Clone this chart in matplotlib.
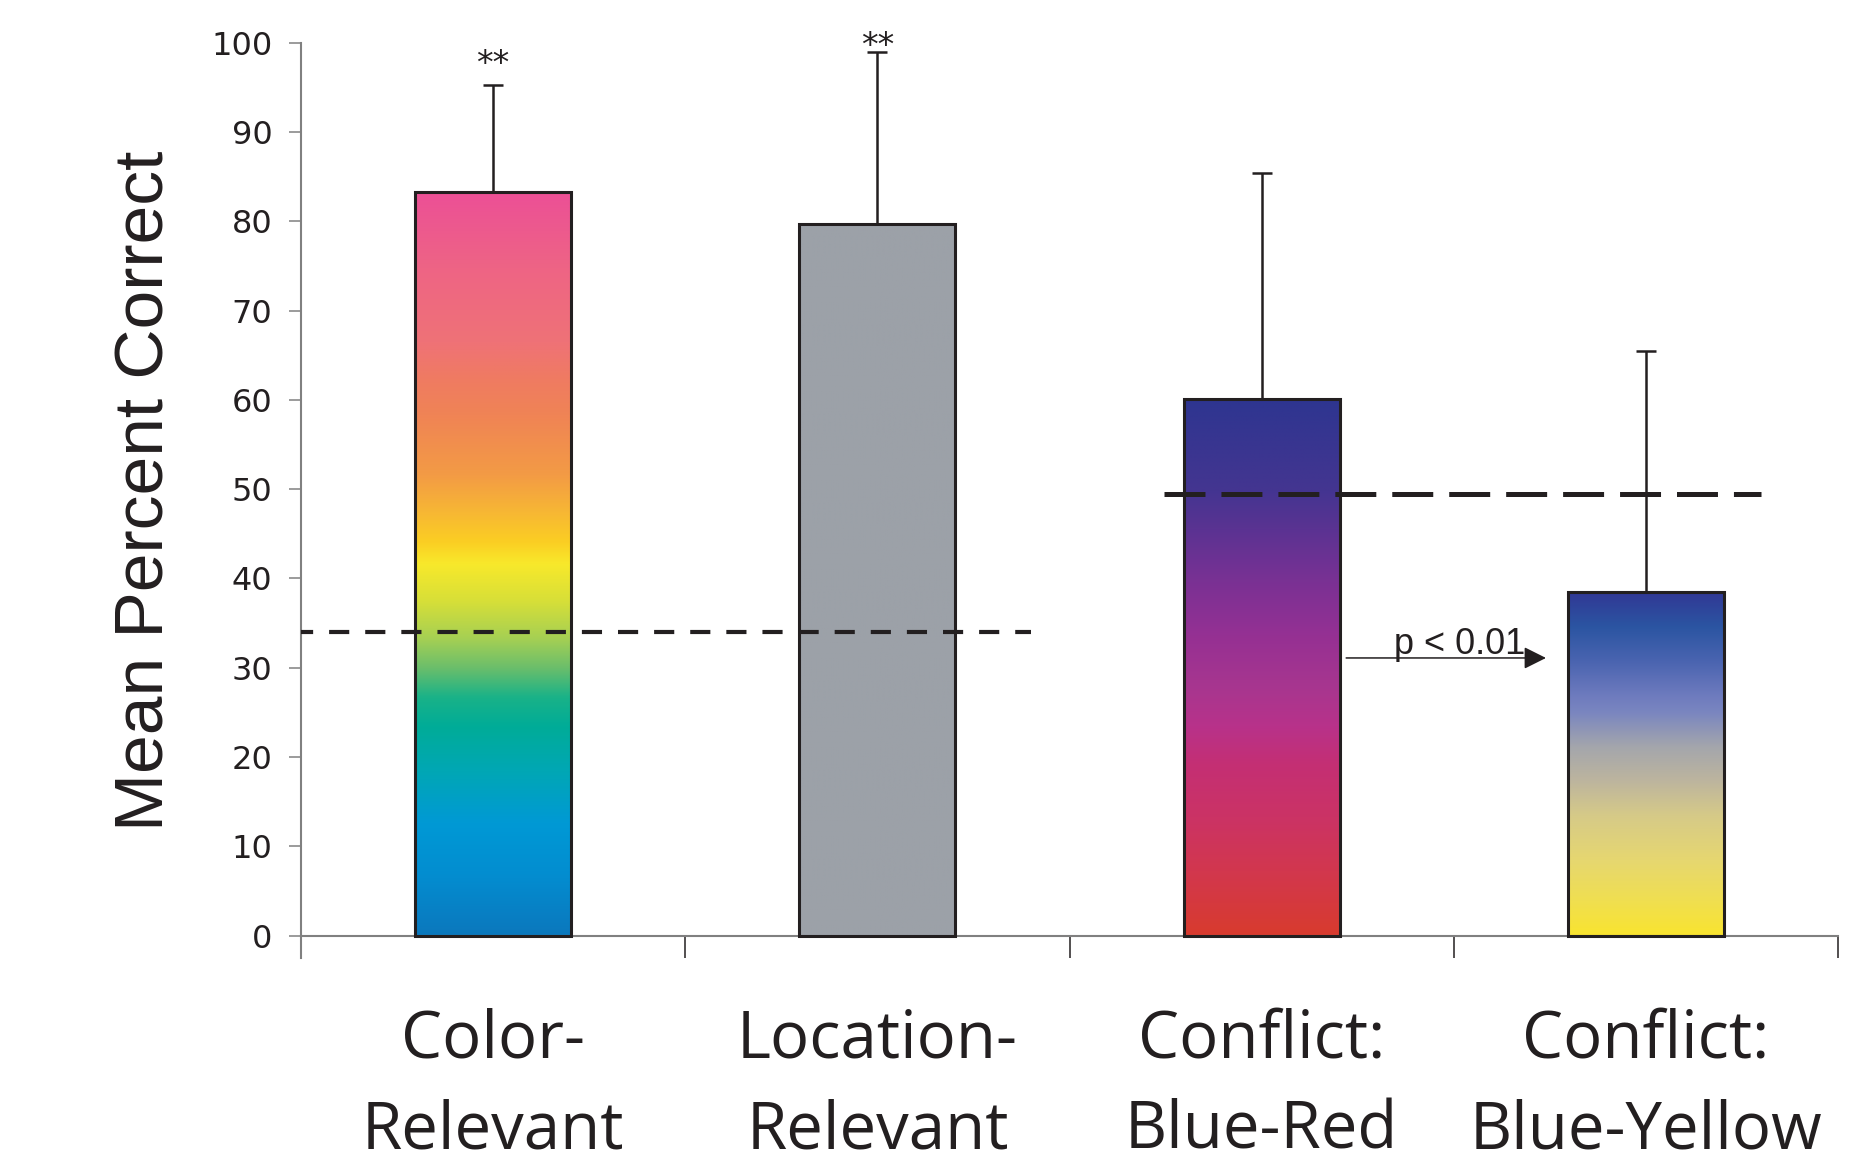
import numpy as np
import matplotlib
matplotlib.use('Agg')
import matplotlib.pyplot as plt
from matplotlib.colors import LinearSegmentedColormap

# values
categories = ['Color-\nRelevant', 'Location-\nRelevant', 'Conflict:\nBlue-Red', 'Conflict:\nBlue-Yellow']
means = [83.3, 79.7, 60.1, 38.5]
err_upper = [12.0, 19.3, 25.3, 27.0]
stars = ['**', '**', '', '']
star_y = [97.6, 99.6, 0, 0]

# chance levels (dashed lines)
chance_y = [34.0, 49.5]
chance_x = [(-0.52, 1.40), (1.745, 3.30)]

# p-value arrow
arrow_x = (2.22, 2.74)
arrow_y = 31.1
p_text = 'p < 0.01'

DARK = '#231F20'
GRAY = '#808080'

# gradients, stops from bottom (0) to top (1) of each bar
gradients = [
    ([0.0, 0.08, 0.15, 0.22, 0.28, 0.32, 0.36, 0.40, 0.45, 0.50, 0.53, 0.57, 0.62, 0.70, 0.75, 0.80, 0.90, 1.0],
     ['#0B78BD', '#038DD0', '#0099D5', '#00A7B5', '#00AC98', '#19B288', '#6BBE6B', '#A6D053',
      '#D7DF38', '#F8E92B', '#FBCE23', '#F7B734', '#F39B45', '#F08455', '#EF7B62', '#EF7277',
      '#EE6485', '#EC5096']),
    ([0.0, 1.0], ['#9CA1A8', '#9CA1A8']),
    ([0.0, 0.12, 0.22, 0.32, 0.39, 0.46, 0.56, 0.66, 0.76, 0.83, 1.0],
     ['#D83B2E', '#D2374E', '#CB3365', '#C42F74', '#B8328A', '#A8368F', '#953093', '#7A3194',
      '#5A3392', '#443591', '#2E3590']),
    ([0.0, 0.10, 0.22, 0.35, 0.45, 0.55, 0.65, 0.70, 0.80, 0.90, 1.0],
     ['#F9E42F', '#F0DF50', '#E6D770', '#D6CA88', '#BDB59E', '#A4A6AC', '#7A86C0', '#6E7BBE',
      '#4A64B0', '#2B55A2', '#313895']),
]


def main():
    plt.rcParams['lines.scale_dashes'] = False
    fig = plt.figure(figsize=(18.56, 11.74), dpi=100)
    ax = fig.add_axes([0.1622, 0.184, 0.8281, 0.7796])

    x = np.arange(len(categories))
    bars = ax.bar(x, means, width=0.406, facecolor='none', edgecolor=DARK,
                  linewidth=2.2, zorder=3)

    # gradient fill for each bar
    grad = np.linspace(0, 1, 256).reshape(-1, 1)
    for patch, (stops, cols) in zip(bars.patches, gradients):
        cmap = LinearSegmentedColormap.from_list('g', list(zip(stops, cols)))
        x0, w, h = patch.get_x(), patch.get_width(), patch.get_height()
        ax.imshow(grad, extent=(x0, x0 + w, 0, h), origin='lower', cmap=cmap,
                  aspect='auto', zorder=2, interpolation='bilinear')

    ax.errorbar(x, means, yerr=[np.zeros(len(means)), err_upper], fmt='none',
                ecolor=DARK, elinewidth=1.8, capsize=7, capthick=1.8, zorder=4)

    for xi, s, sy in zip(x, stars, star_y):
        if s:
            ax.text(xi, sy, s, ha='center', va='center', fontsize=24, color=DARK,
                    family='DejaVu Sans', clip_on=False)

    # chance lines
    ax.plot(chance_x[0], [chance_y[0]] * 2, color=DARK, lw=3.0, dashes=(14.5, 11.5), zorder=5)
    ax.plot(chance_x[1], [chance_y[1]] * 2, color=DARK, lw=3.6, dashes=(29.5, 11.5), zorder=5)

    # p-value arrow
    ax.annotate('', xy=(arrow_x[1], arrow_y), xytext=(arrow_x[0], arrow_y),
                arrowprops=dict(arrowstyle='-|>,head_length=0.4,head_width=0.2',
                                mutation_scale=34, lw=1.1, color=DARK,
                                shrinkA=0, shrinkB=0), zorder=6)
    ax.text(2.345, arrow_y + 0.45, p_text, ha='left', va='baseline', fontsize=26,
            color=DARK, family=['Liberation Sans', 'DejaVu Sans'], zorder=6)

    ax.set_xlim(-0.5, 3.5)
    ax.set_ylim(-2.5, 100)

    for side in ['top', 'right']:
        ax.spines[side].set_visible(False)
    ax.spines['bottom'].set_position(('data', 0))
    ax.spines['left'].set_color(GRAY)
    ax.spines['bottom'].set_color(GRAY)
    ax.spines['left'].set_linewidth(1.5)
    ax.spines['bottom'].set_linewidth(1.5)

    ax.set_yticks(np.arange(0, 101, 10))
    ax.tick_params(axis='y', direction='out', length=8.6, width=1.1, color=GRAY,
                   pad=12, labelsize=23, labelcolor=DARK)
    for lab in ax.get_yticklabels():
        lab.set_family('DejaVu Sans')

    ax.set_xticks(np.arange(-0.5, 4.0, 1.0))
    ax.set_xticklabels([])
    ax.tick_params(axis='x', which='major', direction='out', length=16, width=1.1,
                   color=DARK)
    ax.set_xticks(x, minor=True)
    ax.set_xticklabels(categories, minor=True)
    ax.tick_params(axis='x', which='minor', length=0, pad=52, labelsize=47,
                   labelcolor=DARK)
    for lab in ax.get_xticklabels(minor=True):
        lab.set_family(['Open Sans', 'DejaVu Sans'])
        lab.set_linespacing(1.5)

    fig.text(0.0785, 0.582, 'Mean Percent Correct', rotation=90, ha='center',
             va='center', fontsize=50, color=DARK,
             family=['Liberation Sans Narrow', 'Liberation Sans', 'DejaVu Sans'])

    fig.savefig('out.png', dpi=100)


if __name__ == '__main__':
    main()
